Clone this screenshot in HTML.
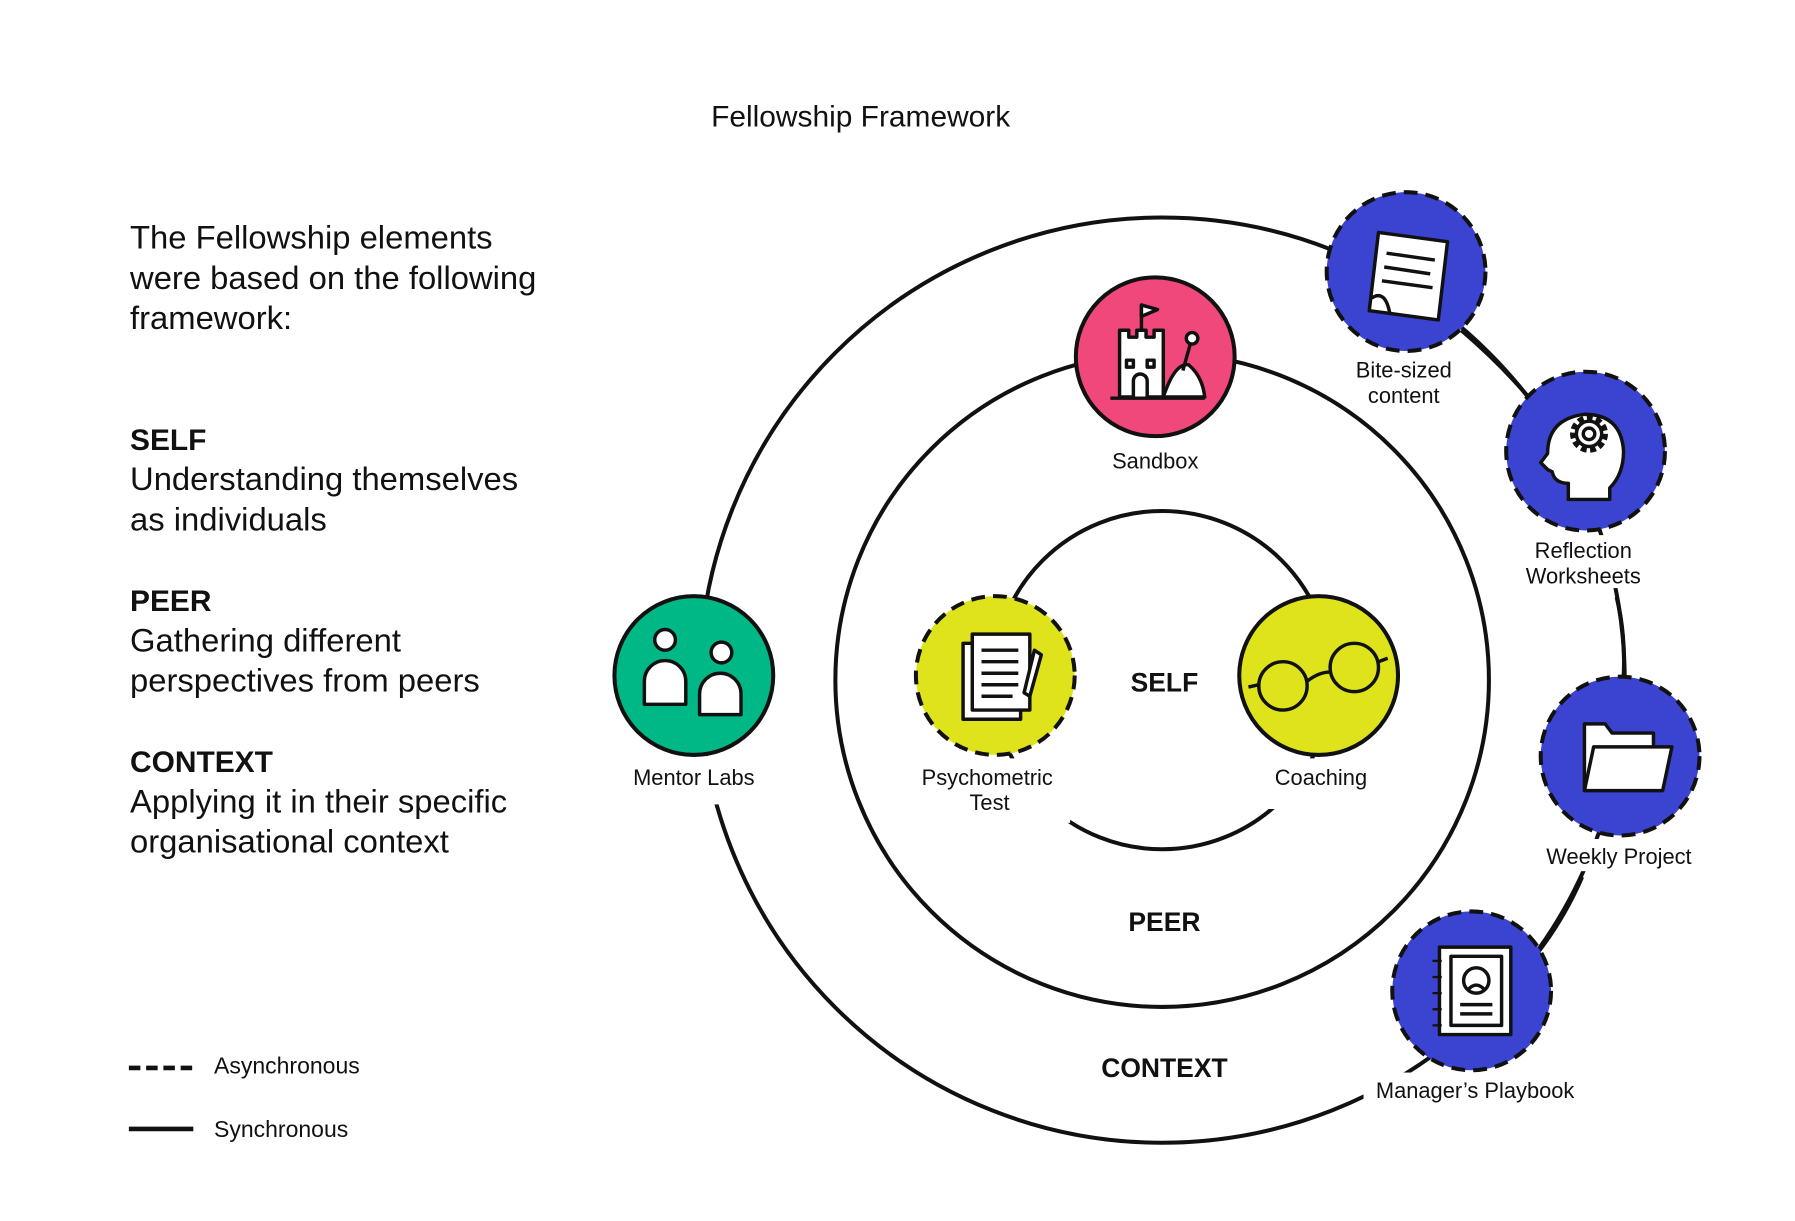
<!DOCTYPE html>
<html><head><meta charset="utf-8">
<style>
html,body{margin:0;padding:0;background:#fff;}
svg{display:block;}
text{font-family:"Liberation Sans",sans-serif;fill:#111;}
.b{font-weight:900;}
</style></head>
<body>
<svg width="1795" height="1221" viewBox="0 0 1560 1061" preserveAspectRatio="none" xmlns="http://www.w3.org/2000/svg">
<rect width="1560" height="1061" fill="#fff"/>
<text x="748" y="110" font-size="26" text-anchor="middle">Fellowship Framework</text>

<g font-size="28.5">
<text x="113" y="216">The Fellowship elements</text>
<text x="113" y="251">were based on the following</text>
<text x="113" y="286">framework:</text>
<text x="113" y="391" class="b" font-size="26">SELF</text>
<text x="113" y="426">Understanding themselves</text>
<text x="113" y="461">as individuals</text>
<text x="113" y="531" class="b" font-size="26">PEER</text>
<text x="113" y="566">Gathering different</text>
<text x="113" y="601">perspectives from peers</text>
<text x="113" y="671" class="b" font-size="26">CONTEXT</text>
<text x="113" y="706">Applying it in their specific</text>
<text x="113" y="741">organisational context</text>
</g>

<line x1="112" y1="928" x2="168" y2="928" stroke="#111" stroke-width="4" stroke-dasharray="10,5"/>
<text x="186" y="933" font-size="20">Asynchronous</text>
<line x1="112" y1="981" x2="168" y2="981" stroke="#111" stroke-width="4"/>
<text x="186" y="988" font-size="20">Synchronous</text>

<g transform="translate(-5,-3)">
<g fill="none" stroke="#111" stroke-width="3.5">
<circle cx="1015" cy="594" r="402"/>
<circle cx="1015" cy="594" r="284"/>
<circle cx="1015" cy="594" r="147"/>
<path d="M1275 290 Q1310 320 1335 350"/>
<path d="M1410 522 Q1418 555 1416 592"/>
<path d="M1380 765 Q1365 800 1342 830"/>
</g>

<g fill="#fff">
<rect x="545" y="660" width="125" height="42"/>
<rect x="795" y="662" width="140" height="56"/>
<rect x="1100" y="662" width="108" height="44"/>
<rect x="1190" y="935" width="195" height="32"/>
<rect x="1185" y="312" width="88" height="40"/>
<rect x="1325" y="468" width="115" height="46"/>
<rect x="1340" y="732" width="145" height="28"/>
</g>

<g stroke="#111" stroke-width="3.5">
<circle cx="1009" cy="313" r="69" fill="#f0487a"/>
<circle cx="608" cy="590" r="69" fill="#00b886"/>
<circle cx="870" cy="590" r="69" fill="#dfe31c" stroke-dasharray="12,7"/>
<circle cx="1151" cy="590" r="69" fill="#dfe31c"/>
<circle cx="1227" cy="239" r="69" fill="#3a44d0" stroke-dasharray="12,7"/>
<circle cx="1383" cy="395" r="69" fill="#3a44d0" stroke-dasharray="12,7"/>
<circle cx="1413" cy="660" r="69" fill="#3a44d0" stroke-dasharray="12,7"/>
<circle cx="1284" cy="864" r="69" fill="#3a44d0" stroke-dasharray="12,7"/>
</g>

<g stroke="#111" stroke-width="3" fill="#fff" stroke-linejoin="round">
<path d="M978 290 h8 v6 h7 v-6 h8 v6 h7 v-6 h8 v58 h-38 z"/>
<line x1="997" y1="290" x2="997" y2="268"/><path d="M997 268 l14 4 l-14 6 z"/>
<rect x="984" y="316" width="6" height="6"/><rect x="1002" y="316" width="6" height="6"/>
<path d="M990 348 v-14 a6 6 0 0 1 12 0 v14"/>
<path d="M1016 348 q10 -30 22 -28 q12 10 14 28 z"/>
<line x1="1033" y1="325" x2="1040" y2="300"/><circle cx="1041" cy="297" r="5"/>
<line x1="970" y1="349" x2="1052" y2="349"/>
<circle cx="583" cy="559" r="9"/><circle cx="632" cy="570" r="9"/>
<path d="M565 615 v-20 a18 18 0 0 1 36 0 v20 z"/>
<path d="M613 624 v-18 a18 18 0 0 1 36 0 v18 z"/>
<rect x="842" y="562" width="50" height="66"/>
<rect x="850" y="554" width="50" height="66"/>
<g><line x1="858" y1="568" x2="890" y2="568"/><line x1="858" y1="578" x2="890" y2="578"/><line x1="858" y1="588" x2="890" y2="588"/><line x1="858" y1="598" x2="890" y2="598"/><line x1="858" y1="608" x2="885" y2="608"/></g>
<path d="M904 568 l6 4 l-10 36 l-5 -3 z"/>
<circle cx="1120" cy="599" r="21" fill="none"/><circle cx="1182" cy="583" r="21" fill="none"/>
<path d="M1141 595 q10 -8 20 -8" fill="none"/><line x1="1099" y1="598" x2="1090" y2="600"/><line x1="1203" y1="578" x2="1211" y2="575"/>
<path d="M1203 205 l60 8 l-8 68 l-60 -8 z"/>
<g><line x1="1210" y1="223" x2="1252" y2="229"/><line x1="1208" y1="235" x2="1248" y2="241"/><line x1="1206" y1="247" x2="1250" y2="253"/></g>
<path d="M1197 262 q12 -8 16 14" fill="none"/>
<path d="M1368 437 v-14 q-12 0 -14 -10 l-4 -2 l-6 -6 l6 -8 q0 -30 32 -34 q32 0 34 32 q0 20 -12 32 v10 z"/>
<circle cx="1386" cy="380" r="14" stroke-dasharray="5,3" stroke-width="5" fill="none"/>
<circle cx="1386" cy="380" r="11"/><circle cx="1386" cy="380" r="5"/>
<path d="M1382 690 v-58 h18 l6 8 h36 v12"/>
<path d="M1382 690 l8 -38 h68 l-8 38 z"/>
<rect x="1256" y="826" width="62" height="76"/>
<rect x="1266" y="834" width="44" height="60"/>
<circle cx="1288" cy="855" r="11"/><path d="M1280 864 q8 -10 16 0" fill="none"/>
<line x1="1274" y1="876" x2="1302" y2="876"/><line x1="1274" y1="884" x2="1302" y2="884"/>
<g stroke-width="2"><line x1="1250" y1="838" x2="1258" y2="838"/><line x1="1250" y1="852" x2="1258" y2="852"/><line x1="1250" y1="866" x2="1258" y2="866"/><line x1="1250" y1="880" x2="1258" y2="880"/><line x1="1250" y1="894" x2="1258" y2="894"/></g>
</g>

<g font-size="19" text-anchor="middle">
<text x="1009" y="410">Sandbox</text>
<text x="1225" y="331">Bite-sized</text>
<text x="1225" y="353">content</text>
<text x="1381" y="488">Reflection</text>
<text x="1381" y="510">Worksheets</text>
<text x="1412" y="754">Weekly Project</text>
<text x="1287" y="957">Manager’s Playbook</text>
<text x="608" y="685">Mentor Labs</text>
<text x="863" y="685">Psychometric</text>
<text x="865" y="707">Test</text>
<text x="1153" y="685">Coaching</text>
</g>
<g font-size="23" text-anchor="middle">
<text x="1017" y="604" class="b">SELF</text>
<text x="1017" y="812" class="b">PEER</text>
<text x="1017" y="939" class="b">CONTEXT</text>
</g>
</g>
</svg>
</body></html>
